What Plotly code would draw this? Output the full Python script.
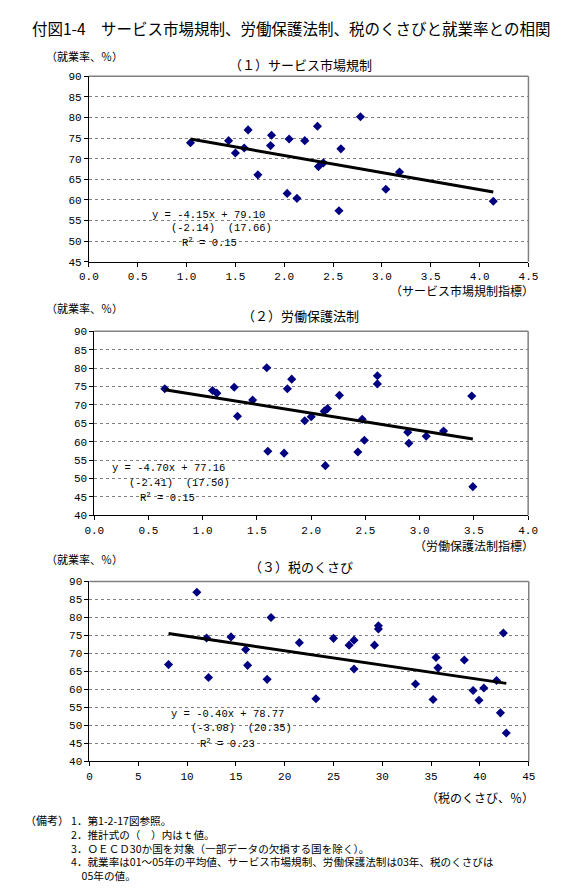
import plotly.graph_objects as go

W, H = 579, 896

# ---------------- data ----------------
svc_x = [1.04, 1.43, 1.50, 1.59, 1.63, 1.73, 1.86, 1.87, 2.03, 2.05, 2.13,
         2.21, 2.34, 2.35, 2.40, 2.56, 2.58, 2.78, 3.04, 3.18, 4.14]
svc_y = [73.9, 74.4, 71.4, 72.6, 77.0, 66.1, 73.2, 75.7, 61.6, 74.8, 60.4,
         74.4, 77.9, 68.1, 69.0, 57.4, 72.4, 80.2, 62.6, 66.8, 59.7]

lab_x = [0.65, 1.09, 1.13, 1.29, 1.32, 1.46, 1.59, 1.60, 1.75, 1.78, 1.82,
         1.94, 2.00, 2.12, 2.13, 2.15, 2.26, 2.43, 2.47, 2.49, 2.61, 2.61,
         2.89, 2.90, 3.06, 3.22, 3.48, 3.49]
lab_y = [74.4, 73.9, 73.2, 74.8, 66.9, 71.3, 80.1, 57.4, 56.9, 74.4, 77.0,
         65.7, 66.8, 68.3, 53.5, 69.0, 72.6, 57.2, 66.1, 60.4, 77.9, 75.7,
         62.6, 59.6, 61.5, 62.9, 72.4, 47.8]

tax_x = [8.1, 11.0, 12.0, 12.2, 14.5, 16.0, 16.2, 18.2, 18.6, 21.5, 23.2,
         25.0, 26.6, 27.1, 27.1, 29.2, 29.6, 29.6, 33.4, 35.2, 35.5, 35.7,
         38.4, 39.3, 39.9, 40.4, 41.7, 42.1, 42.4, 42.7]
tax_y = [66.9, 87.0, 74.3, 63.3, 74.6, 71.1, 66.7, 62.8, 80.0, 73.0, 57.4,
         74.2, 72.3, 73.7, 65.7, 72.3, 77.7, 76.8, 61.5, 57.2, 68.9, 66.0,
         68.2, 59.7, 57.0, 60.4, 62.5, 53.5, 75.7, 47.9]

slopes = [-4.15, -4.70, -0.40]
intercepts = [79.10, 77.16, 78.77]
t_slopes = ["-2.14", "-2.41", "-3.08"]
t_inter = ["17.66", "17.50", "20.35"]
r2 = ["0.15", "0.15", "0.23"]

panel_titles = ["（１）サービス市場規制", "（２）労働保護法制", "（３）税のくさび"]
x_titles = ["（サービス市場規制指標）", "（労働保護法制指標）", "（税のくさび、％）"]
y_title = "（就業率、％）"
main_title = "付図1-4　サービス市場規制、労働保護法制、税のくさびと就業率との相関"
notes_head = "（備考）"
notes = ["1．第1-2-17図参照。",
         "2．推計式の（　）内はｔ値。",
         "3．ＯＥＣＤ30か国を対象（一部データの欠損する国を除く）。",
         "4．就業率は01～05年の平均値、サービス市場規制、労働保護法制は03年、税のくさびは",
         "　05年の値。"]

x_ranges = [[0, 4.5], [0, 4.0], [0, 45]]
x_dticks = [0.5, 0.5, 5]
x_fmt = [".1f", ".1f", "d"]
y_ranges = [[45, 90], [40, 90], [40, 90]]

# ---------------- layout geometry (pixels) ----------------
def px(x):
    return x / W

def py(y):
    return 1 - y / H

plot_boxes = [  # left, right, top, bottom in pixels
    (81.7, 537.0, 72.3, 260.3),
    (87.3, 536.7, 330.7, 517.3),
    (82.3, 537.3, 584.3, 766.7),
]
title_y = [60, 315, 569]
ytitle_y = [52, 307, 562]
xtitle_y = [289, 548, 803]
eq_pos = [
    [(146, 213.3), (166, 225.7), (176.7, 241)],
    [(105, 469.3), (122.7, 484), (134, 499.5)],
    [(166, 719), (186, 732.7), (196, 748.5)],
]

JP = "Noto Sans CJK JP"
MONO = "Liberation Mono"
NAVY = "#000080"
GRAY = "#808080"

fig = go.Figure()
datasets = [(svc_x, svc_y), (lab_x, lab_y), (tax_x, tax_y)]

annotations = []
shapes = []

for i, (xs, ys) in enumerate(datasets):
    xa = "x" if i == 0 else f"x{i+1}"
    ya = "y" if i == 0 else f"y{i+1}"
    fig.add_trace(go.Scatter(
        x=xs, y=ys, mode="markers", xaxis=xa, yaxis=ya,
        marker=dict(symbol="diamond", size=7, color=NAVY),
        showlegend=False, hoverinfo="x+y"))
    x0, x1 = min(xs), max(xs)
    fig.add_trace(go.Scatter(
        x=[x0, x1], y=[slopes[i] * x0 + intercepts[i], slopes[i] * x1 + intercepts[i]],
        mode="lines", xaxis=xa, yaxis=ya,
        line=dict(color="black", width=3), showlegend=False, hoverinfo="skip"))

    l, r, t, b = plot_boxes[i]
    axn = "" if i == 0 else str(i + 1)
    fig.update_layout(**{
        f"xaxis{axn}": dict(
            domain=[px(l), px(r)], range=x_ranges[i], dtick=x_dticks[i], tick0=0,
            tickformat=x_fmt[i], showgrid=False, zeroline=False,
            showline=True, linecolor="black", linewidth=1,
            ticks="outside", ticklen=4, tickcolor="black",
            tickfont=dict(family=MONO, size=11, color="black"),
            anchor="y" if i == 0 else f"y{i+1}", fixedrange=True),
        f"yaxis{axn}": dict(
            domain=[py(b), py(t)], range=y_ranges[i], dtick=5,
            showgrid=True, gridcolor=GRAY, griddash="3px,3px", gridwidth=1,
            zeroline=False, showline=True, linecolor="black", linewidth=1,
            ticks="outside", ticklen=4, tickcolor="black",
            tickfont=dict(family=MONO, size=11, color="black"),
            anchor="x" if i == 0 else f"x{i+1}", fixedrange=True),
    })
    shapes.append(dict(type="line", xref="paper", yref="paper",
                       x0=px(l), x1=px(r), y0=py(t), y1=py(t),
                       line=dict(color=GRAY, width=1.5)))
    shapes.append(dict(type="line", xref="paper", yref="paper",
                       x0=px(r), x1=px(r), y0=py(t), y1=py(b),
                       line=dict(color=GRAY, width=1.5)))

    annotations.append(dict(text=panel_titles[i], x=px(301), y=py(title_y[i]),
                            xref="paper", yref="paper", showarrow=False,
                            xanchor="center", yanchor="middle",
                            font=dict(family=JP, size=13, color="black")))
    annotations.append(dict(text=y_title, x=px(35), y=py(ytitle_y[i]),
                            xref="paper", yref="paper", showarrow=False,
                            xanchor="left", yanchor="middle",
                            font=dict(family=JP, size=11, color="black")))
    annotations.append(dict(text=x_titles[i], x=px(545), y=py(xtitle_y[i]),
                            xref="paper", yref="paper", showarrow=False,
                            xanchor="right", yanchor="middle",
                            font=dict(family=JP, size=12, color="black")))
    eq_lines = [f"y = {slopes[i]:.2f}x + {intercepts[i]:.2f}",
                f"({t_slopes[i]})  ({t_inter[i]})",
                f"R<sup>2</sup> = {r2[i]}"]
    for (ex, ey), txt in zip(eq_pos[i], eq_lines):
        annotations.append(dict(text=txt, x=px(ex), y=py(ey),
                                xref="paper", yref="paper", showarrow=False,
                                xanchor="left", yanchor="middle", borderpad=0,
                                font=dict(family=MONO, size=10.5, color="black")))

annotations.append(dict(text=main_title, x=px(291), y=py(23.5), xref="paper", yref="paper",
                        showarrow=False, xanchor="center", yanchor="middle",
                        font=dict(family=JP, size=15.5, color="black")))

# notes: heading + one multi-line block
annotations.append(dict(text=notes_head, x=px(62), y=py(826), xref="paper", yref="paper",
                        showarrow=False, xanchor="right", yanchor="middle", borderpad=0,
                        font=dict(family=JP, size=11, color="black")))
annotations.append(dict(text="<br>".join(notes), x=px(62), y=py(818), xref="paper", yref="paper",
                        showarrow=False, xanchor="left", yanchor="top", align="left",
                        borderpad=0, font=dict(family=JP, size=10.6, color="black")))

fig.update_layout(
    width=W, height=H, margin=dict(l=0, r=0, t=0, b=0),
    paper_bgcolor="white", plot_bgcolor="white",
    annotations=annotations, shapes=shapes, showlegend=False,
    font=dict(family=JP, color="black"),
)

fig.write_html("out.html", config={"displayModeBar": False})
